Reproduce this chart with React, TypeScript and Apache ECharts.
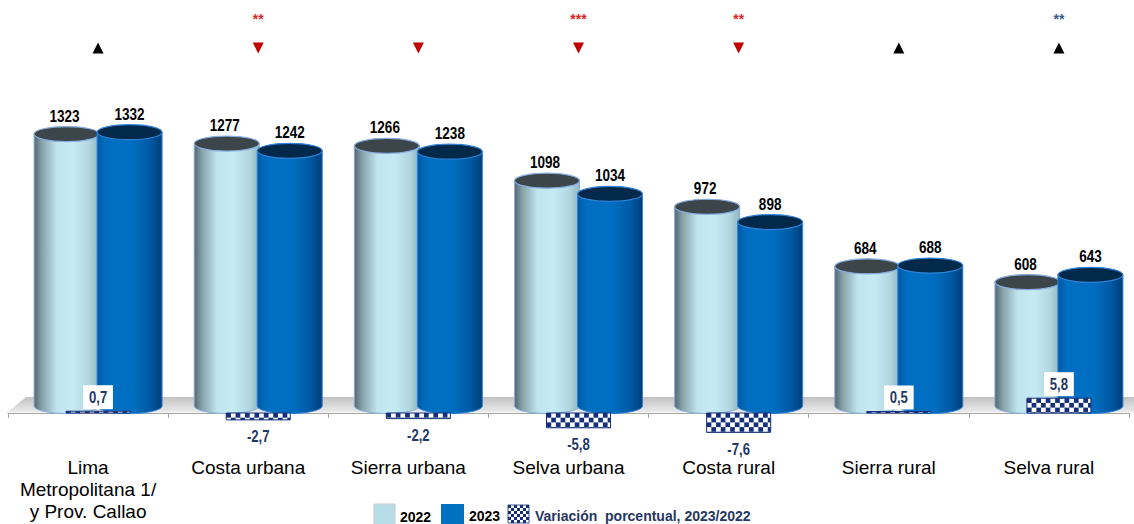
import React, { useEffect, useRef } from 'react';
import * as echarts from 'echarts';

const categories = [
  'Lima\nMetropolitana 1/\ny Prov. Callao',
  'Costa urbana',
  'Sierra urbana',
  'Selva urbana',
  'Costa rural',
  'Sierra rural',
  'Selva rural',
];
const values2022 = [1323, 1277, 1266, 1098, 972, 684, 608];
const values2023 = [1332, 1242, 1238, 1034, 898, 688, 643];
const variation = [0.7, -2.7, -2.2, -5.8, -7.6, 0.5, 5.8];
const significance = ['', '**', '', '***', '**', '', '**'];
const legendLabels = ['2022', '2023', 'Variación  porcentual, 2023/2022'];

const SANS = '"Liberation Sans", Arial, Helvetica, sans-serif';
const NAVY = '#15307a';
const NAVY_TEXT = '#1f3864';
const PAIR_SHIFT = 10;
const HALF_GAP = 31.5;
const RX = 32.5;
const RY = 7.5;
const NARROW_SCALE = 0.82;

function checker(x0: number, y0: number, w: number, h: number, cell: number, color: string) {
  const out: any[] = [];
  const rows = Math.max(1, Math.ceil(h / cell - 1e-6));
  const cols = Math.max(1, Math.ceil(w / cell - 1e-6));
  for (let r = 0; r < rows; r++) {
    for (let c = 0; c < cols; c++) {
      if ((r + c) % 2 === 0) {
        const cw = Math.min(cell, w - c * cell);
        const ch = Math.min(cell, h - r * cell);
        out.push({
          type: 'rect',
          shape: { x: x0 + c * cell, y: y0 + r * cell, width: cw, height: ch },
          style: { fill: color },
        });
      }
    }
  }
  return out;
}

function narrowText(text: string, x: number, y: number, size: number, fill: string, extra: any = {}) {
  return {
    type: 'text',
    x,
    y,
    scaleX: NARROW_SCALE,
    style: {
      text,
      x: 0,
      y: 0,
      align: 'center',
      verticalAlign: 'middle',
      font: `bold ${size}px ${SANS}`,
      fill,
      ...extra,
    },
  };
}

const pal2022 = {
  stops: [
    { offset: 0, color: '#56666d' },
    { offset: 0.12, color: '#86a2aa' },
    { offset: 0.35, color: '#bfe4ee' },
    { offset: 0.6, color: '#c6ebf5' },
    { offset: 0.85, color: '#b0d6e0' },
    { offset: 1, color: '#93b5be' },
  ],
  top: '#3c4549',
  stroke: '#86ace0',
};
const pal2023 = {
  stops: [
    { offset: 0, color: '#005aa6' },
    { offset: 0.15, color: '#006fc2' },
    { offset: 0.55, color: '#006ec0' },
    { offset: 0.82, color: '#0058a2' },
    { offset: 1, color: '#003e78' },
  ],
  top: '#03294a',
  stroke: '#2f82d8',
};

function makeCylinder(side: number, pal: any, labelShift: number) {
  return (params: any, api: any) => {
    const i = api.value(0);
    const v = api.value(1);
    const base = api.coord([i, 0]);
    const top = api.coord([i, v]);
    const cx = base[0] + PAIR_SHIFT + side * HALF_GAP;
    const yb = base[1] - 7;
    const yt = top[1] - 5;
    const grad = new echarts.graphic.LinearGradient(0, 0, 1, 0, pal.stops);
    return {
      type: 'group',
      children: [
        {
          type: 'path',
          shape: {
            pathData: `M${cx - RX},${yt} L${cx - RX},${yb} A${RX},${RY} 0 0 0 ${cx + RX},${yb} L${cx + RX},${yt} Z`,
          },
          style: { fill: grad, stroke: pal.stroke, lineWidth: 1 },
        },
        {
          type: 'ellipse',
          shape: { cx, cy: yt, rx: RX, ry: RY },
          style: { fill: pal.top, stroke: pal.stroke, lineWidth: 1.2 },
        },
        narrowText(String(v), cx + labelShift, yt - 18.5, 16.5, '#000'),
      ],
    };
  };
}

function renderVariation(params: any, api: any) {
  const i = api.value(0);
  const p = api.value(1);
  const b = api.coord([i, 0]);
  const e = api.coord([i, p]);
  const cx = b[0] + PAIR_SHIFT;
  const w = 64;
  const x0 = cx - w / 2;
  const h = Math.max(Math.abs(e[1] - b[1]), 1.5);
  const y0 = p >= 0 ? b[1] - h : b[1];
  const txt = p.toFixed(1).replace('.', ',');
  const label = narrowText(
    txt,
    cx,
    p >= 0 ? y0 - 14 : y0 + h + 17,
    16,
    NAVY_TEXT,
    p >= 0 ? { backgroundColor: '#ffffff', padding: [4, 7, 4, 7] } : {}
  );
  return {
    type: 'group',
    children: [
      { type: 'rect', shape: { x: x0, y: y0, width: w, height: h }, style: { fill: '#ffffff' } },
      ...checker(x0, y0, w, h, 4.7, NAVY),
      {
        type: 'rect',
        shape: { x: x0, y: y0, width: w, height: h },
        style: { fill: 'none', stroke: NAVY, lineWidth: 1 },
      },
      label,
    ],
  };
}

function renderMarker(params: any, api: any) {
  const i = api.value(0);
  const p = api.value(1);
  const sig = significance[i];
  const x = api.coord([i, 0])[0] + PAIR_SHIFT;
  const up = p >= 0;
  const yc = 48;
  const pts = up
    ? [[x - 5.5, yc + 5.5], [x + 5.5, yc + 5.5], [x, yc - 5.5]]
    : [[x - 5.5, yc - 5.5], [x + 5.5, yc - 5.5], [x, yc + 5.5]];
  const children: any[] = [
    { type: 'polygon', shape: { points: pts }, style: { fill: up ? '#000000' : '#c00000' } },
  ];
  if (sig) {
    children.push({
      type: 'text',
      style: {
        text: sig,
        x,
        y: 12,
        align: 'center',
        verticalAlign: 'top',
        font: `bold 14px ${SANS}`,
        fill: up ? '#3a5a8c' : '#d42a2a',
      },
    });
  }
  return { type: 'group', children };
}

function legendGraphics() {
  return [
    {
      type: 'rect',
      shape: { x: 374, y: 504, width: 21, height: 21 },
      style: { fill: '#b7dde8', stroke: '#c9c9c9', lineWidth: 1 },
    },
    {
      type: 'text',
      x: 400,
      y: 524,
      style: { text: legendLabels[0], font: `bold 14px ${SANS}`, fill: '#000', verticalAlign: 'bottom' },
    },
    {
      type: 'rect',
      shape: { x: 441, y: 504, width: 23, height: 21 },
      style: { fill: '#0070c0' },
    },
    {
      type: 'text',
      x: 469,
      y: 523,
      style: { text: legendLabels[1], font: `bold 14px ${SANS}`, fill: '#000', verticalAlign: 'bottom' },
    },
    {
      type: 'group',
      children: [
        { type: 'rect', shape: { x: 508, y: 505, width: 21, height: 18 }, style: { fill: '#fff' } },
        ...checker(508, 505, 21, 18, 3, NAVY),
        {
          type: 'rect',
          shape: { x: 508, y: 505, width: 21, height: 18 },
          style: { fill: 'none', stroke: NAVY, lineWidth: 0.8 },
        },
      ],
    },
    {
      type: 'text',
      x: 535,
      y: 523,
      style: { text: legendLabels[2], font: `bold 14px ${SANS}`, fill: NAVY_TEXT, verticalAlign: 'bottom' },
    },
  ];
}

export default function App() {
  const ref = useRef<HTMLDivElement>(null);
  useEffect(() => {
    if (!ref.current) return;
    const chart = echarts.init(ref.current, undefined, { renderer: 'svg' });
    const k0 = 0.20706;
    const k1 = 2.55;
    const option: any = {
      animation: false,
      backgroundColor: '#ffffff',
      grid: {
        left: 8,
        right: 5,
        top: 5,
        bottom: 111,
        containLabel: false,
        outerBoundsMode: 'none',
      },
      xAxis: {
        type: 'category',
        data: categories,
        boundaryGap: true,
        axisLine: { show: true, onZero: false, lineStyle: { color: '#a6a6a6', width: 1 } },
        axisTick: { show: true, length: 5, interval: 0, lineStyle: { color: '#a6a6a6' } },
        axisLabel: {
          interval: 0,
          margin: 43,
          fontSize: 19,
          lineHeight: 22,
          color: '#000',
          fontFamily: SANS,
        },
        splitLine: { show: false },
        z: 3,
      },
      yAxis: [
        { type: 'value', show: false, min: 0, max: 408 / k0, splitLine: { show: false } },
        { type: 'value', show: false, min: 0, max: 408 / k1, splitLine: { show: false } },
      ],
      graphic: [
        {
          type: 'polygon',
          z: 0,
          silent: true,
          shape: { points: [[7, 412.5], [26, 397], [1134, 397], [1134, 412.5]] },
          style: {
            fill: new echarts.graphic.LinearGradient(0, 0, 0, 1, [
              { offset: 0, color: '#c2c2c2' },
              { offset: 1, color: '#ebebeb' },
            ]),
          },
        },
        ...legendGraphics(),
      ],
      series: [
        {
          name: '2022',
          type: 'custom',
          xAxisIndex: 0,
          yAxisIndex: 0,
          z: 4,
          renderItem: makeCylinder(-1, pal2022, -2),
          encode: { x: 0, y: 1 },
          data: values2022.map((v, i) => [i, v]),
        },
        {
          name: '2023',
          type: 'custom',
          xAxisIndex: 0,
          yAxisIndex: 0,
          z: 5,
          renderItem: makeCylinder(1, pal2023, 0),
          encode: { x: 0, y: 1 },
          data: values2023.map((v, i) => [i, v]),
        },
        {
          name: 'Variación porcentual, 2023/2022',
          type: 'custom',
          xAxisIndex: 0,
          yAxisIndex: 1,
          z: 6,
          renderItem: renderVariation,
          encode: { x: 0, y: 1 },
          data: variation.map((v, i) => [i, v]),
        },
        {
          name: 'Significancia',
          type: 'custom',
          xAxisIndex: 0,
          yAxisIndex: 1,
          z: 6,
          renderItem: renderMarker,
          encode: { x: 0, y: 1 },
          data: variation.map((v, i) => [i, v]),
        },
      ],
    };
    chart.setOption(option);
    return () => chart.dispose();
  }, []);
  return (
    <div
      ref={ref}
      style={{ position: 'fixed', left: 0, top: 0, width: 1134, height: 524, background: '#fff' }}
    />
  );
}
